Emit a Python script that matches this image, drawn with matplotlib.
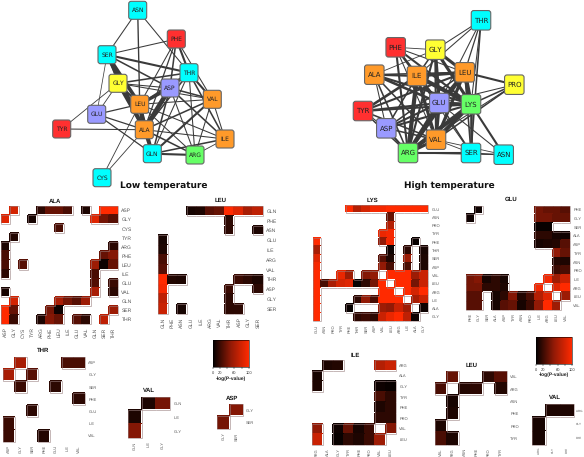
import numpy as np
import matplotlib
matplotlib.use('Agg')
import matplotlib.pyplot as plt
from matplotlib.collections import LineCollection
from matplotlib.colors import LinearSegmentedColormap, Normalize
from matplotlib.cm import ScalarMappable
from matplotlib.patches import FancyBboxPatch

plt.rcParams['text.hinting'] = 'none'
plt.rcParams['text.hinting_factor'] = 1

W, H = 584, 457

# colours by residue class
RED, CYAN, YEL, ORG, PUR, GRN = '#ff3030', '#00ffff', '#ffff33', '#ff9a2a', '#9a9aff', '#66ff66'

# low temperature network
low_nodes = {'ASN': (137.7, 10.3, CYAN), 'PHE': (176.3, 39, RED), 'SER': (107, 54.7, CYAN),
             'THR': (189, 72.7, CYAN), 'GLY': (118, 83.3, YEL), 'ASP': (170, 88, PUR),
             'VAL': (212.3, 99.3, ORG), 'LEU': (139.7, 104.3, ORG), 'GLU': (96.7, 114.3, PUR),
             'TYR': (61.7, 129, RED), 'ALA': (144.3, 129.7, ORG), 'ILE': (225, 139, ORG),
             'GLN': (152.3, 153.7, CYAN), 'ARG': (195, 155, GRN), 'CYS': (102, 177.7, CYAN)}
low_edges = [('ASN', 'SER', 1), ('ASN', 'LEU', 1.3), ('ASN', 'THR', 1), ('PHE', 'SER', 1),
             ('PHE', 'THR', 2), ('PHE', 'ASP', 1.5), ('PHE', 'ALA', 1.2), ('PHE', 'VAL', 1),
             ('PHE', 'LEU', 1), ('SER', 'THR', 2), ('SER', 'GLY', 1), ('SER', 'ASP', 1.5),
             ('SER', 'LEU', 3.5), ('SER', 'ALA', 3.5), ('SER', 'GLU', 0.7), ('THR', 'GLY', 1.5),
             ('THR', 'ASP', 2), ('THR', 'VAL', 2), ('THR', 'ILE', 1.5), ('THR', 'ARG', 1),
             ('THR', 'LEU', 1.5), ('THR', 'ALA', 1.5), ('THR', 'GLN', 1), ('GLY', 'ASP', 1),
             ('GLY', 'VAL', 1), ('GLY', 'LEU', 2), ('GLY', 'ALA', 3), ('GLY', 'GLU', 0.8),
             ('GLY', 'TYR', 0.8), ('ASP', 'LEU', 3), ('ASP', 'ALA', 4.5), ('ASP', 'VAL', 1.5),
             ('ASP', 'ILE', 1.5), ('ASP', 'ARG', 1), ('ASP', 'GLN', 1.5), ('VAL', 'LEU', 1),
             ('VAL', 'ALA', 1.5), ('VAL', 'GLN', 2), ('VAL', 'ILE', 1), ('VAL', 'ARG', 1),
             ('LEU', 'GLU', 1.2), ('LEU', 'ALA', 4), ('LEU', 'GLN', 3), ('LEU', 'ILE', 1),
             ('LEU', 'ARG', 1), ('GLU', 'ALA', 1.2), ('GLU', 'GLN', 1.2), ('TYR', 'ALA', 1),
             ('ALA', 'GLN', 3), ('ALA', 'ILE', 1), ('ALA', 'ARG', 1.5), ('GLN', 'ILE', 1.5),
             ('GLN', 'ARG', 2), ('ALA', 'CYS', 0.8), ('LEU', 'CYS', 0.8), ('ILE', 'ARG', 0.8)]

# high temperature network
high_nodes = {'THR': (481, 20.3, CYAN), 'PHE': (395.7, 47.3, RED), 'GLY': (435.3, 49.7, YEL),
              'ALA': (374.3, 74.7, ORG), 'ILE': (417, 76, ORG), 'LEU': (464.7, 72.3, ORG),
              'PRO': (514.3, 84.7, YEL), 'GLU': (439.3, 103, PUR), 'LYS': (471, 104.3, GRN),
              'TYR': (363, 111, RED), 'ASP': (386.3, 128.3, PUR), 'VAL': (436, 139.7, ORG),
              'ARG': (408, 153, GRN), 'SER': (471, 153, CYAN), 'ASN': (503.7, 154.7, CYAN)}
high_edges = [('THR', 'GLY', 1), ('THR', 'ILE', 1), ('THR', 'LEU', 1.2), ('THR', 'LYS', 1),
              ('THR', 'GLU', 1), ('THR', 'SER', 1.5), ('PHE', 'GLY', 0.8), ('PHE', 'ILE', 2),
              ('PHE', 'GLU', 2), ('PHE', 'LYS', 2), ('PHE', 'VAL', 1), ('PHE', 'ARG', 2),
              ('PHE', 'LEU', 1), ('GLY', 'ALA', 0.8), ('GLY', 'ILE', 1.5), ('GLY', 'LEU', 3),
              ('GLY', 'GLU', 3), ('GLY', 'LYS', 3), ('GLY', 'VAL', 2), ('GLY', 'ARG', 2),
              ('ALA', 'ILE', 2), ('ALA', 'LEU', 1.5), ('ALA', 'GLU', 2.5), ('ALA', 'LYS', 2),
              ('ALA', 'ASP', 1), ('ALA', 'ARG', 1.5), ('ALA', 'VAL', 1.5), ('ILE', 'LEU', 3),
              ('ILE', 'GLU', 3), ('ILE', 'LYS', 4), ('ILE', 'VAL', 3), ('ILE', 'ARG', 4),
              ('ILE', 'TYR', 2.5), ('ILE', 'ASP', 1.5), ('ILE', 'SER', 1), ('LEU', 'PRO', 2),
              ('LEU', 'GLU', 3), ('LEU', 'LYS', 4), ('LEU', 'VAL', 3), ('LEU', 'ARG', 3),
              ('LEU', 'SER', 1.5), ('LEU', 'TYR', 2), ('LEU', 'ASP', 1.5), ('PRO', 'GLU', 1),
              ('PRO', 'LYS', 1.5), ('PRO', 'VAL', 1.5), ('PRO', 'ARG', 1), ('GLU', 'LYS', 3),
              ('GLU', 'TYR', 2), ('GLU', 'ASP', 2), ('GLU', 'VAL', 3), ('GLU', 'ARG', 4),
              ('GLU', 'SER', 1.5), ('GLU', 'ASN', 1), ('LYS', 'TYR', 2), ('LYS', 'ASP', 2),
              ('LYS', 'VAL', 4), ('LYS', 'ARG', 4), ('LYS', 'SER', 2.5), ('LYS', 'ASN', 2),
              ('TYR', 'ASP', 1), ('TYR', 'VAL', 1.5), ('TYR', 'ARG', 1.5), ('ASP', 'VAL', 1.5),
              ('ASP', 'ARG', 2), ('VAL', 'ARG', 3), ('VAL', 'SER', 0.8), ('VAL', 'ASN', 0.8),
              ('ARG', 'SER', 2), ('ARG', 'ASN', 1), ('SER', 'ASN', 1)]

# -log(P-value) tables, 0 means empty cell
ala_labels = ['ASP', 'GLY', 'CYS', 'TYR', 'ARG', 'PHE', 'LEU', 'ILE', 'GLU', 'VAL', 'GLN', 'SER', 'THR']
ala_values = [[0, 80, 0, 0, 15, 35, 35, 25, 0, 10, 0, 100, 100],
              [85, 0, 0, 8, 0, 0, 0, 0, 0, 0, 85, 40, 30],
              [0, 0, 0, 0, 0, 0, 25, 0, 0, 0, 0, 0, 0],
              [0, 12, 0, 0, 0, 0, 0, 0, 0, 0, 0, 0, 0],
              [10, 0, 0, 0, 0, 0, 0, 0, 0, 0, 0, 0, 15],
              [25, 0, 0, 0, 0, 0, 0, 0, 0, 0, 0, 35, 45],
              [25, 0, 30, 0, 0, 0, 0, 0, 0, 0, 55, 5, 35],
              [15, 0, 0, 0, 0, 0, 0, 0, 0, 0, 25, 0, 0],
              [0, 0, 0, 0, 0, 0, 0, 0, 0, 0, 28, 0, 20],
              [8, 0, 0, 0, 0, 0, 0, 0, 0, 0, 60, 0, 15],
              [0, 80, 0, 0, 0, 0, 60, 40, 30, 55, 0, 0, 0],
              [100, 35, 0, 0, 0, 40, 5, 0, 0, 0, 0, 0, 55],
              [100, 20, 0, 0, 10, 45, 35, 0, 30, 15, 0, 70, 0]]

leu_low_labels = ['GLN', 'PHE', 'ASN', 'GLU', 'ILE', 'ARG', 'VAL', 'THR', 'ASP', 'GLY', 'SER']
leu_low_values = [[0, 0, 0, 8, 10, 30, 35, 100, 85, 60, 70],
                  [0, 0, 0, 0, 0, 0, 0, 15, 0, 0, 0],
                  [0, 0, 0, 0, 0, 0, 0, 15, 0, 0, 10],
                  [8, 0, 0, 0, 0, 0, 0, 0, 0, 0, 0],
                  [10, 0, 0, 0, 0, 0, 0, 0, 0, 0, 0],
                  [25, 0, 0, 0, 0, 0, 0, 0, 0, 0, 0],
                  [30, 0, 0, 0, 0, 0, 0, 0, 0, 0, 0],
                  [100, 12, 10, 0, 0, 0, 0, 0, 20, 15, 10],
                  [95, 0, 0, 0, 0, 0, 0, 20, 0, 0, 15],
                  [70, 0, 0, 0, 0, 0, 0, 15, 0, 0, 0],
                  [75, 0, 8, 0, 0, 0, 0, 15, 15, 0, 0]]

thr_labels = ['ASP', 'GLY', 'SER', 'PHE', 'GLU', 'ILE', 'VAL']
thr_values = [[0, 60, 0, 0, 0, 25, 25],
              [60, 0, 30, 0, 0, 0, 0],
              [0, 20, 0, 0, 15, 0, 0],
              [0, 0, 0, 0, 0, 0, 15],
              [0, 0, 15, 0, 0, 0, 0],
              [20, 0, 0, 0, 0, 0, 0],
              [20, 0, 0, 12, 0, 0, 0]]

val_low_labels = ['GLN', 'ILE', 'GLY']
val_low_values = [[0, 10, 40], [10, 0, 0], [45, 0, 0]]

asp_labels = ['GLY', 'SER']
asp_values = [[0, 45], [40, 0]]

lys_labels = ['GLU', 'ASN', 'PRO', 'TYR', 'PHE', 'THR', 'SER', 'ASP', 'VAL', 'LEU', 'ARG', 'ILE', 'ALA', 'GLY']
lys_values = [[0, 0, 0, 0, 100, 65, 80, 95, 95, 100, 100, 100, 100, 100],
              [0, 0, 0, 0, 0, 0, 0, 0, 0, 35, 0, 0, 0, 0],
              [0, 0, 0, 0, 0, 0, 0, 0, 0, 65, 0, 0, 0, 0],
              [0, 0, 0, 0, 0, 0, 0, 0, 90, 95, 0, 0, 0, 0],
              [100, 0, 0, 0, 0, 0, 0, 0, 50, 95, 0, 0, 3, 0],
              [60, 0, 0, 0, 0, 0, 0, 0, 0, 5, 0, 15, 0, 8],
              [85, 0, 0, 0, 0, 0, 0, 0, 30, 10, 0, 55, 0, 10],
              [95, 0, 0, 0, 0, 0, 0, 0, 50, 25, 0, 25, 0, 10],
              [100, 0, 0, 90, 55, 0, 45, 50, 0, 100, 100, 100, 55, 75],
              [100, 25, 60, 80, 85, 2, 15, 40, 100, 0, 100, 100, 40, 75],
              [100, 0, 0, 0, 0, 0, 0, 0, 100, 100, 0, 100, 80, 100],
              [100, 0, 0, 0, 0, 15, 50, 25, 100, 100, 100, 0, 60, 75],
              [100, 0, 0, 0, 3, 0, 0, 0, 55, 50, 75, 55, 0, 5],
              [100, 0, 0, 0, 0, 15, 20, 15, 75, 90, 100, 70, 5, 0]]

glu_labels = ['PHE', 'GLY', 'SER', 'ALA', 'ASP', 'TYR', 'ASN', 'PRO', 'ILE', 'ARG', 'LEU', 'VAL']
glu_values = [[0, 5, 0, 0, 0, 0, 0, 0, 40, 35, 35, 30],
              [5, 0, 0, 0, 0, 0, 0, 0, 40, 40, 35, 35],
              [0, 0, 0, 0, 0, 0, 0, 0, 3, 3, 0, 0],
              [0, 0, 0, 0, 0, 0, 0, 0, 15, 15, 8, 5],
              [0, 0, 0, 0, 0, 0, 0, 0, 8, 10, 12, 30],
              [0, 0, 0, 0, 0, 0, 0, 0, 0, 0, 50, 35],
              [0, 0, 0, 0, 0, 0, 0, 0, 0, 0, 12, 10],
              [0, 0, 0, 0, 0, 0, 0, 0, 0, 0, 20, 25],
              [40, 45, 8, 15, 8, 0, 0, 0, 0, 95, 55, 75],
              [40, 40, 15, 15, 10, 0, 0, 0, 95, 0, 85, 100],
              [30, 30, 0, 8, 15, 45, 12, 25, 65, 85, 0, 55],
              [30, 30, 0, 8, 30, 35, 8, 20, 50, 100, 55, 0]]

ile_labels = ['ARG', 'ALA', 'GLY', 'TYR', 'PHE', 'PRO', 'VAL', 'LEU']
ile_values = [[0, 10, 12, 0, 0, 0, 65, 75],
              [8, 0, 0, 0, 0, 0, 0, 0],
              [10, 0, 0, 0, 0, 0, 5, 3],
              [0, 0, 0, 0, 0, 0, 25, 15],
              [0, 0, 0, 0, 0, 0, 10, 15],
              [0, 0, 0, 0, 0, 0, 15, 15],
              [50, 0, 5, 35, 8, 20, 0, 45],
              [75, 0, 3, 15, 10, 20, 55, 0]]

leu_high_labels = ['VAL', 'ARG', 'ASN', 'PHE', 'PRO', 'TYR']
leu_high_values = [[0, 35, 0, 0, 15, 30],
                   [25, 0, 12, 15, 0, 12],
                   [0, 8, 0, 0, 0, 0],
                   [0, 10, 0, 0, 0, 0],
                   [10, 0, 0, 0, 0, 0],
                   [25, 10, 0, 0, 0, 0]]

val_high_labels = ['ARG', 'GLY', 'PHE']
val_high_values = [[0, 10, 10], [8, 0, 0], [8, 0, 0]]

cbar_ticks = [0, 20, 60, 100]

cmap = LinearSegmentedColormap.from_list('blackred', [(0, '#000000'), (0.5, '#921a06'), (1, '#ff2a00')])
cmap.set_bad('white')
norm = Normalize(0, 100)

fig = plt.figure(figsize=(W / 100, H / 100), dpi=100)
bg = fig.add_axes([0, 0, 1, 1])
bg.set_xlim(0, W)
bg.set_ylim(H, 0)
bg.axis('off')


def px_axes(x0, y0, x1, y1):
    return fig.add_axes([x0 / W, 1 - y1 / H, (x1 - x0) / W, (y1 - y0) / H])


def network(nodes, edges, size, fs):
    for a, b, lw in edges:
        bg.plot([nodes[a][0], nodes[b][0]], [nodes[a][1], nodes[b][1]], color='#3a3a3a',
                lw=lw * 0.75, solid_capstyle='round', zorder=1)
    for name, (x, y, c) in nodes.items():
        bg.add_patch(FancyBboxPatch((x - size / 2 + 1.5, y - size / 2 + 1.5), size - 3, size - 3,
                                    boxstyle='round,pad=1.5,rounding_size=2.5', fc=c, ec='#666666',
                                    lw=0.8, zorder=2))
        bg.text(x, y + 0.3, name, ha='center', va='center', fontsize=fs, color='#222222', zorder=3)


def outline(ax, data):
    # grey rim only where a filled cell touches an empty one
    n = data.shape[0]
    segs = []
    for i in range(n):
        for j in range(n):
            if data[i, j] == 0:
                continue
            if i == 0 or data[i - 1, j] == 0:
                segs.append([(j, i), (j + 1, i)])
            if i == n - 1 or data[i + 1, j] == 0:
                segs.append([(j, i + 1), (j + 1, i + 1)])
            if j == 0 or data[i, j - 1] == 0:
                segs.append([(j, i), (j, i + 1)])
            if j == n - 1 or data[i, j + 1] == 0:
                segs.append([(j + 1, i), (j + 1, i + 1)])
    ax.add_collection(LineCollection(segs, colors='#9a8080', linewidths=0.4, clip_on=False))


def heat(box, labels, values, title, title_xy, fs=3, tfs=4.2, pad=2.5):
    ax = px_axes(*box)
    arr = np.array(values, dtype=float)
    data = np.ma.masked_equal(arr, 0)
    ax.pcolormesh(data, cmap=cmap, norm=norm, edgecolors='face', linewidth=0.2)
    outline(ax, arr)
    ax.set_ylim(len(labels), 0)
    ax.set_xlim(0, len(labels))
    pos = np.arange(len(labels)) + 0.5
    ax.set_xticks(pos, labels, rotation=90, fontsize=fs, color='#555555', family='Liberation Sans')
    ax.set_yticks(pos, labels, fontsize=fs, color='#555555', family='Liberation Sans')
    ax.yaxis.tick_right()
    ax.tick_params(length=0, pad=pad)
    for s in ax.spines.values():
        s.set_visible(False)
    bg.text(title_xy[0], title_xy[1], title, ha='center', va='center', fontsize=tfs,
            fontweight='bold', family='Liberation Sans', color='#111111')


def colorbar(box):
    cax = px_axes(*box)
    cb = fig.colorbar(ScalarMappable(norm=norm, cmap=cmap), cax=cax, orientation='horizontal')
    cb.outline.set_linewidth(0.4)
    cb.set_ticks(cbar_ticks)
    cb.ax.set_xticks([40, 80], minor=True)
    cb.ax.tick_params(which='both', length=1.5, width=0.3, labelsize=3, pad=1.5, labelcolor='#333333')
    for t in cb.ax.get_xticklabels():
        t.set_family('Liberation Sans')
    cb.set_label('-log(P-value)', fontsize=3.4, fontweight='bold', labelpad=0.5, color='#222222',
                 family='Liberation Sans')


network(low_nodes, low_edges, 18, 4.6)
network(high_nodes, high_edges, 19.5, 4.8)

bg.text(164, 185.7, 'Low temperature', ha='center', va='center', fontsize=6.35, fontweight='bold', color='#111111')
bg.text(449.7, 185.7, 'High temperature', ha='center', va='center', fontsize=6.35, fontweight='bold', color='#111111')

heat((1, 206, 118, 324), ala_labels, ala_values, 'ALA', (55, 201), fs=3.3)
heat((158.3, 206, 263, 314), leu_low_labels, leu_low_values, 'LEU', (221, 200.5), fs=3.3)
heat((3.3, 356.7, 85, 441.7), thr_labels, thr_values, 'THR', (43, 350.5), tfs=4.6)
heat((128, 396.7, 170, 438), val_low_labels, val_low_values, 'VAL', (149, 390))
heat((217.3, 403.7, 242.7, 429), asp_labels, asp_values, 'ASP', (231.7, 398))
heat((312.7, 205, 428.3, 321), lys_labels, lys_values, 'LYS', (372, 200))
heat((466, 205.7, 570, 309.7), glu_labels, glu_values, 'GLU', (511, 199.5))
heat((312, 360, 396, 444.7), ile_labels, ile_values, 'ILE', (355, 355.5))
heat((434.7, 370.7, 506.7, 444.7), leu_high_labels, leu_high_values, 'LEU', (471.7, 365))
heat((532, 403.7, 573.7, 445), val_high_labels, val_high_values, 'VAL', (554.7, 397), fs=2.3, pad=1.5)

colorbar((212.7, 340.3, 249, 367.3))
colorbar((535.7, 336.7, 572.3, 364))

fig.savefig('out.png', dpi=100, facecolor='white')
